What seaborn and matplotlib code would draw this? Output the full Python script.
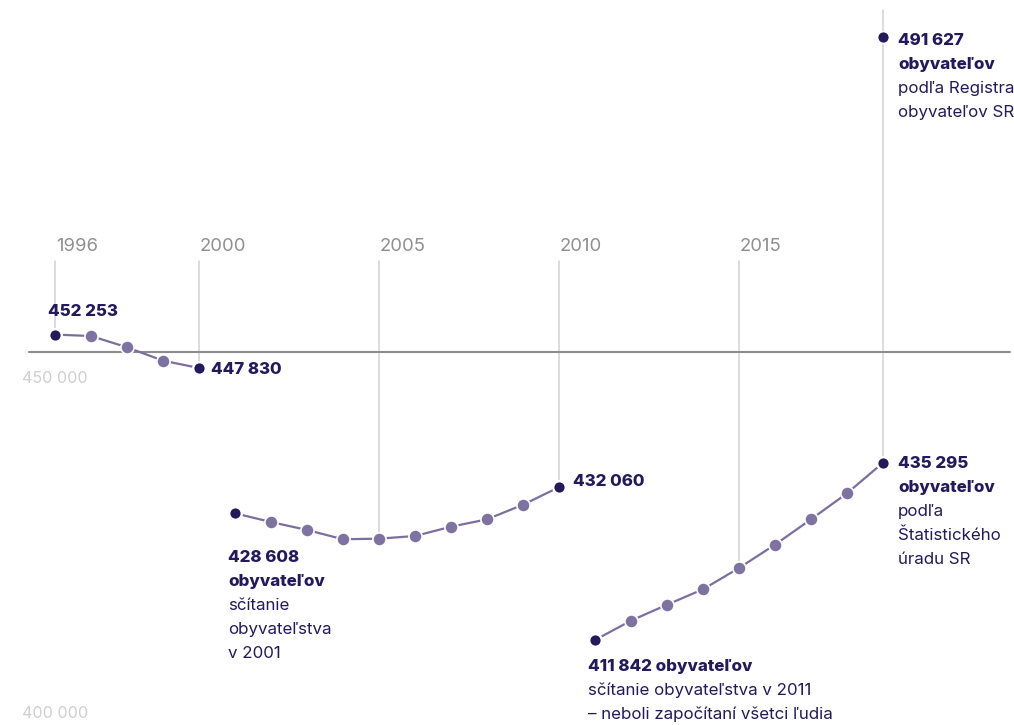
import matplotlib
matplotlib.use("Agg")
import matplotlib.pyplot as plt
import seaborn as sns
import pandas as pd

# ---- data ----
years_a = [1996, 1997, 1998, 1999, 2000]
pop_a = [452253, 452060, 450570, 448800, 447830]
years_b = [2001, 2002, 2003, 2004, 2005, 2006, 2007, 2008, 2009, 2010]
pop_b = [428608, 427450, 426400, 425170, 425250, 425600, 426830, 427810, 429740, 432060]
years_c = [2011, 2012, 2013, 2014, 2015, 2016, 2017, 2018, 2019]
pop_c = [411842, 414400, 416510, 418550, 421370, 424450, 427810, 431250, 435295]
register_year = [2019]
register_pop = [491627]
tick_years = [1996, 2000, 2005, 2010, 2015]
ref_values = [450000, 400000]
ref_labels = ["450 000", "400 000"]

DARK = "#231a5a"
LIGHT = "#7d72a0"
LINE = "#7a6f9e"
GRID = "#d2d2d2"
HLINE = "#8c8c8c"
YEARC = "#8f8f8f"
REFC = "#cfcfcf"
FS = 12.2

sns.set_theme(style="white")
plt.rcParams['font.family'] = ['Inter', 'DejaVu Sans']

df = pd.concat([
    pd.DataFrame({"year": years_a, "pop": pop_a, "segment": "a"}),
    pd.DataFrame({"year": years_b, "pop": pop_b, "segment": "b"}),
    pd.DataFrame({"year": years_c, "pop": pop_c, "segment": "c"}),
], ignore_index=True)
lookup = dict(zip(df["year"], df["pop"]))

ends = pd.DataFrame({
    "year": [years_a[0], years_a[-1], years_b[0], years_b[-1], years_c[0], years_c[-1], register_year[0]],
    "pop": [pop_a[0], pop_a[-1], pop_b[0], pop_b[-1], pop_c[0], pop_c[-1], register_pop[0]],
})

fig = plt.figure(figsize=(10.14, 7.25), dpi=100)
ax = fig.add_axes([0, 0, 1, 1])
XL = (1994.472, 2022.639)
YL = (400595, 496520)
ax.set_xlim(*XL)
ax.set_ylim(*YL)
ylo, yhi = YL

# vertical guide lines
grid_top = ylo + 0.6404 * (yhi - ylo)
for yr in tick_years:
    ax.plot([yr, yr], [lookup[yr], grid_top], color=GRID, lw=1.1, zorder=1)
    ax.text(yr + 0.02, 0.6538, str(yr), transform=ax.get_xaxis_transform(),
            ha="left", va="baseline", fontsize=13.3, color=YEARC)
reg_top = ylo + 0.986 * (yhi - ylo)
ax.plot([register_year[0]] * 2, [lookup[register_year[0]], reg_top], color=GRID, lw=1.1, zorder=1)

# horizontal reference line
ax.axhline(ref_values[0], xmin=0.0286, xmax=0.996, color=HLINE, lw=1.5, zorder=1.5)
ax.text(0.0217, 0.4717, ref_labels[0], transform=ax.transAxes, ha="left", va="baseline",
        fontsize=11.6, color=REFC)
ax.text(0.0217, 0.0097, ref_labels[1], transform=ax.transAxes, ha="left", va="baseline",
        fontsize=11.6, color=REFC)

# series
sns.lineplot(data=df, x="year", y="pop", units="segment", estimator=None, color=LINE,
             lw=1.6, marker="o", markersize=9.5, markerfacecolor=LIGHT,
             markeredgecolor="white", markeredgewidth=1.2, ax=ax, zorder=2)
sns.scatterplot(data=ends, x="year", y="pop", color=DARK, s=70, edgecolor="white",
                linewidth=1.0, ax=ax, zorder=3, legend=False)
ax.set_xlim(*XL)
ax.set_ylim(*YL)
ax.axis("off")


def label(x, y, lines, dx, dy):
    for i, (txt, bold) in enumerate(lines):
        ax.annotate(txt, xy=(x, y), xytext=(dx, dy - i * 24), textcoords="offset pixels",
                    ha="left", va="baseline", fontsize=FS, color=DARK,
                    fontweight=800 if bold else "normal", zorder=4)


label(years_a[0], pop_a[0], [("452 253", True)], -7, 19)
label(years_a[-1], pop_a[-1], [("447 830", True)], 12, -6)
label(years_b[-1], pop_b[-1], [("432 060", True)], 14, 1)
label(years_b[0], pop_b[0], [("428 608", True), ("obyvateľov", True), ("sčítanie", False),
                             ("obyvateľstva", False), ("v 2001", False)], -7, -49)
label(years_c[0], pop_c[0], [("411 842 obyvateľov", True), ("sčítanie obyvateľstva v 2011", False),
                             ("– neboli započítaní všetci ľudia", False)], -7, -31)
label(years_c[-1], pop_c[-1], [("435 295", True), ("obyvateľov", True), ("podľa", False),
                               ("Štatistického", False), ("úradu SR", False)], 15, -5)
label(register_year[0], register_pop[0], [("491 627", True), ("obyvateľov", True),
                                          ("podľa Registra", False), ("obyvateľov SR", False)], 15, -8)

fig.savefig("out.png", dpi=100)
